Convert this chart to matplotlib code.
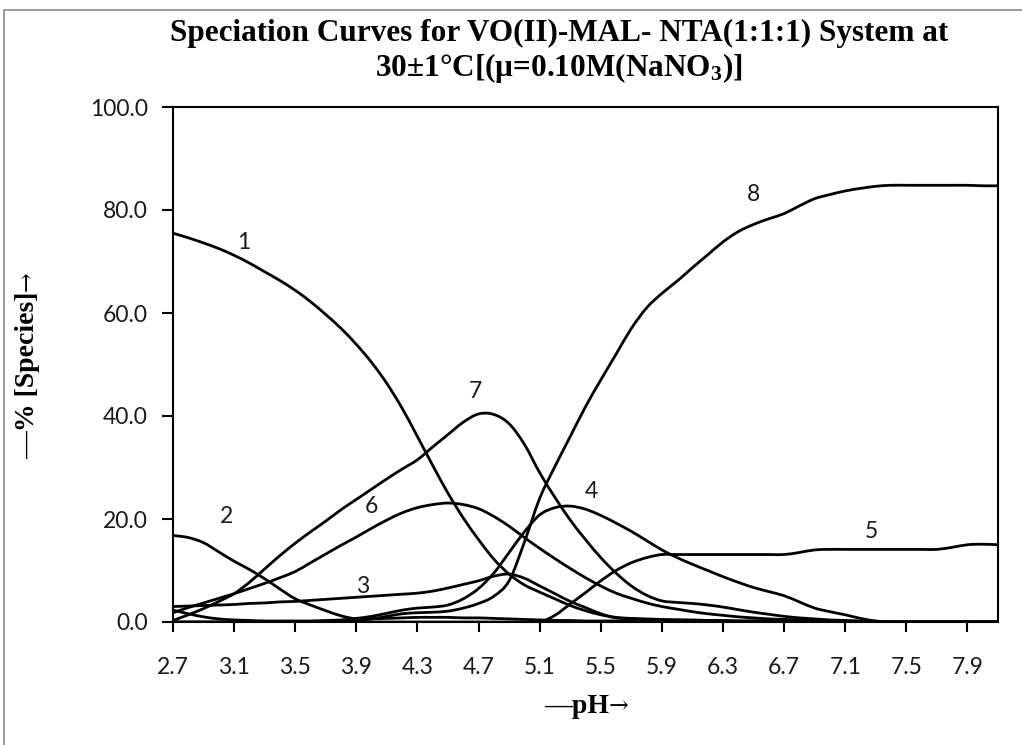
import numpy as np
import matplotlib
matplotlib.use("Agg")
import matplotlib.pyplot as plt
from matplotlib.path import Path
from matplotlib.patches import PathPatch, Rectangle

# ---------------- data ----------------
ph = [2.7, 2.8, 2.9, 3.0, 3.1, 3.2, 3.3, 3.4, 3.5, 3.6, 3.7, 3.8, 3.9, 4.0,
      4.1, 4.2, 4.3, 4.4, 4.5, 4.6, 4.7, 4.8, 4.9, 5.0, 5.1, 5.2, 5.3, 5.4,
      5.5, 5.6, 5.7, 5.8, 5.9, 6.0, 6.1, 6.2, 6.3, 6.4, 6.5, 6.6, 6.7, 6.8,
      6.9, 7.0, 7.1, 7.2, 7.3, 7.4, 7.5, 7.6, 7.7, 7.8, 7.9, 8.0, 8.1]

s1 = [75.5, 74.6, 73.6, 72.5, 71.2, 69.7, 68.0, 66.3, 64.4, 62.2, 59.7, 57.0, 53.9, 50.4,
      46.3, 41.5, 36.0, 30.4, 25.0, 20.2, 16.0, 12.2, 9.3, 7.2, 5.8, 4.5, 3.2, 2.2,
      1.4, 0.9, 0.7, 0.6, 0.5, 0.4, 0.4, 0.3, 0.3, 0.2, 0.2, 0.2, 0.1, 0.1,
      0.1, 0.1, 0.0, 0.0, 0.0, 0.0, 0.0, 0.0, 0.0, 0.0, 0.0, 0.0, 0.0]
s2 = [16.8, 16.4, 15.4, 13.6, 11.8, 10.2, 8.4, 6.4, 4.5, 3.3, 2.2, 1.2, 0.6, 0.6,
      0.7, 0.8, 0.9, 0.9, 0.9, 0.8, 0.8, 0.7, 0.6, 0.5, 0.4, 0.3, 0.3, 0.2,
      0.2, 0.2, 0.1, 0.1, 0.1, 0.1, 0.1, 0.1, 0.1, 0.1, 0.1, 0.0, 0.0, 0.0,
      0.0, 0.0, 0.0, 0.0, 0.0, 0.0, 0.0, 0.0, 0.0, 0.0, 0.0, 0.0, 0.0]
s3 = [3.0, 3.1, 3.2, 3.3, 3.4, 3.6, 3.7, 3.9, 4.0, 4.2, 4.4, 4.6, 4.8, 5.0,
      5.2, 5.4, 5.6, 6.0, 6.6, 7.3, 8.0, 8.9, 9.3, 8.5, 7.0, 5.5, 4.0, 2.8,
      1.6, 0.8, 0.6, 0.5, 0.4, 0.4, 0.3, 0.3, 0.2, 0.2, 0.2, 0.2, 0.1, 0.1,
      0.1, 0.1, 0.0, 0.0, 0.0, 0.0, 0.0, 0.0, 0.0, 0.0, 0.0, 0.0, 0.0]
s4 = [2.3, 1.6, 1.0, 0.6, 0.4, 0.3, 0.2, 0.2, 0.2, 0.2, 0.3, 0.4, 0.7, 1.1,
      1.7, 2.3, 2.7, 2.9, 3.3, 4.5, 6.5, 9.5, 13.5, 17.5, 20.8, 22.2, 22.5, 21.9,
      20.7, 19.2, 17.6, 15.8, 14.0, 12.5, 11.2, 10.0, 8.8, 7.7, 6.7, 5.9, 5.1, 3.9,
      2.7, 2.0, 1.4, 0.7, 0.2, 0.0, 0.0, 0.0, 0.0, 0.0, 0.0, 0.0, 0.0]
s5 = [0.0, 0.0, 0.0, 0.0, 0.0, 0.0, 0.0, 0.0, 0.0, 0.0, 0.0, 0.0, 0.0, 0.0,
      0.0, 0.0, 0.0, 0.0, 0.0, 0.0, 0.0, 0.0, 0.0, 0.0, 0.0, 1.3, 3.5, 5.7,
      8.0, 10.0, 11.5, 12.5, 13.1, 13.1, 13.1, 13.1, 13.1, 13.1, 13.1, 13.1, 13.1, 13.5,
      14.0, 14.1, 14.1, 14.1, 14.1, 14.1, 14.1, 14.1, 14.1, 14.5, 15.0, 15.1, 15.0]
s6 = [1.8, 2.8, 3.7, 4.6, 5.5, 6.5, 7.5, 8.6, 9.8, 11.5, 13.2, 14.9, 16.5, 18.2,
      19.8, 21.2, 22.2, 22.8, 23.1, 22.8, 22.0, 20.5, 18.6, 16.4, 14.3, 12.3, 10.4, 8.6,
      7.0, 5.6, 4.6, 3.7, 3.0, 2.5, 2.0, 1.6, 1.3, 1.0, 0.8, 0.6, 0.5, 0.4,
      0.3, 0.2, 0.2, 0.1, 0.1, 0.0, 0.0, 0.0, 0.0, 0.0, 0.0, 0.0, 0.0]
s7 = [0.3, 1.4, 2.6, 4.0, 5.5, 7.7, 10.3, 12.9, 15.3, 17.5, 19.6, 21.8, 23.8, 25.8,
      27.8, 29.7, 31.5, 34.0, 36.4, 38.8, 40.4, 40.3, 38.5, 34.5, 29.0, 24.2, 19.8, 16.0,
      12.5, 9.5, 7.0, 5.2, 4.1, 3.8, 3.6, 3.3, 2.9, 2.4, 1.9, 1.5, 1.1, 0.8,
      0.6, 0.4, 0.3, 0.2, 0.1, 0.0, 0.0, 0.0, 0.0, 0.0, 0.0, 0.0, 0.0]
s8 = [0.0, 0.0, 0.0, 0.0, 0.0, 0.0, 0.0, 0.0, 0.0, 0.0, 0.0, 0.1, 0.3, 0.6,
      1.1, 1.6, 1.8, 1.9, 2.1, 2.7, 3.6, 5.0, 8.0, 15.5, 24.0, 30.2, 36.0, 41.8,
      47.0, 52.0, 57.0, 61.0, 63.8, 66.2, 68.8, 71.3, 73.8, 75.8, 77.2, 78.3, 79.3, 80.8,
      82.2, 83.0, 83.7, 84.2, 84.6, 84.8, 84.8, 84.8, 84.8, 84.8, 84.8, 84.7, 84.7]

series = [s1, s2, s3, s4, s5, s6, s7, s8]

curve_labels = ["1", "2", "3", "4", "5", "6", "7", "8"]
label_ph = [3.16, 3.05, 3.94, 5.44, 7.27, 4.00, 4.68, 6.50]
label_pct = [73.6, 20.5, 6.9, 25.4, 17.5, 22.4, 44.8, 83.0]

x_tick_labels = ["2.7", "3.1", "3.5", "3.9", "4.3", "4.7", "5.1", "5.5",
                 "5.9", "6.3", "6.7", "7.1", "7.5", "7.9"]
y_ticks = [0, 20, 40, 60, 80, 100]

title1 = "Speciation Curves for VO(II)-MAL- NTA(1:1:1) System at"
title2 = r"30±1°C[(μ=0.10M(NaNO$_3$)]"
xlabel = "—pH"
ylabel = "—% [Species]"
arrow = "→"

# ---------------- style ----------------
plt.rcParams['mathtext.fontset'] = 'custom'
plt.rcParams['mathtext.rm'] = 'Liberation Serif:bold'
plt.rcParams['mathtext.it'] = 'Liberation Serif:bold'
plt.rcParams['mathtext.bf'] = 'Liberation Serif:bold'

serif = ['Liberation Serif', 'DejaVu Serif']
sans = ['Lato', 'DejaVu Sans']

W, H = 1022, 745
fig = plt.figure(figsize=(W / 100, H / 100), dpi=100)
L, R, T, B = 173, 998, 107, 622
ax = fig.add_axes([L / W, 1 - B / H, (R - L) / W, (B - T) / H])


def smooth_path(xs, ys):
    xs = np.asarray(xs, float)
    ys = np.asarray(ys, float)
    n = len(xs)
    verts = [(xs[0], ys[0])]
    codes = [Path.MOVETO]
    for i in range(n - 1):
        i0 = max(i - 1, 0)
        i3 = min(i + 2, n - 1)
        c1 = (xs[i] + (xs[i + 1] - xs[i0]) / 6, ys[i] + (ys[i + 1] - ys[i0]) / 6)
        c2 = (xs[i + 1] - (xs[i3] - xs[i]) / 6, ys[i + 1] - (ys[i3] - ys[i]) / 6)
        verts += [c1, c2, (xs[i + 1], ys[i + 1])]
        codes += [Path.CURVE4] * 3
    return Path(verts, codes)


for s in series:
    patch = PathPatch(smooth_path(ph, s), facecolor='none', edgecolor='black',
                      lw=2.0, capstyle='round', joinstyle='round', zorder=3)
    ax.add_patch(patch)

for lab, lx, ly in zip(curve_labels, label_ph, label_pct):
    ax.text(lx, ly, lab, ha='center', va='center', fontsize=16.5,
            family=sans, color='#1a1a1a', zorder=4)

ax.set_xlim(ph[0], ph[-1])
ax.set_ylim(0, 100)
ax.set_xticks([float(t) for t in x_tick_labels])
ax.set_xticklabels(x_tick_labels)
ax.set_yticks(y_ticks)
ax.set_yticklabels([f"{v:.1f}" for v in y_ticks])

for sp in ax.spines.values():
    sp.set_linewidth(1.5)
    sp.set_color('black')

ax.tick_params(axis='y', direction='out', length=8, width=1.5, pad=10,
               labelsize=16.5, colors='black')
ax.tick_params(axis='x', direction='out', length=7, width=1.5, pad=18,
               labelsize=16.5, colors='black')
for lbl in ax.get_xticklabels() + ax.get_yticklabels():
    lbl.set_family(sans)
    lbl.set_color('#1a1a1a')

# figure border (chart area)
fig.add_artist(Rectangle((4 / W, -0.05), 1.2, 1 - 10 / H + 0.05,
                         transform=fig.transFigure, fill=False,
                         edgecolor='#8a8a8a', lw=1.2))

fig.text(559 / W, 1 - 33 / H, title1, ha='center', va='center', fontsize=22.5,
         fontweight='bold', family=serif)
fig.text(559 / W, 1 - 68 / H, title2, ha='center', va='center', fontsize=22.5,
         fontweight='bold', family=serif)

# axis titles: text + arrow glyph placed right after it
renderer = fig.canvas.get_renderer()

xt = fig.text(0, 0, xlabel, ha='left', va='baseline', fontsize=20,
              fontweight='bold', family=serif)
xa = fig.text(0, 0, arrow, ha='left', va='baseline', fontsize=17,
              family=['DejaVu Serif'])
wx = xt.get_window_extent(renderer).width
wa = xa.get_window_extent(renderer).width
x0 = 586 - (wx + wa) / 2
xt.set_position((x0 / W, 1 - 713 / H))
xa.set_position(((x0 + wx) / W, 1 - 713 / H))

yt = fig.text(0, 0, ylabel, ha='left', va='baseline', fontsize=20,
              fontweight='bold', family=serif, rotation=90,
              rotation_mode='anchor')
ya = fig.text(0, 0, arrow, ha='left', va='baseline', fontsize=17,
              family=['DejaVu Serif'], rotation=90, rotation_mode='anchor')
hy = yt.get_window_extent(renderer).height
ha_ = ya.get_window_extent(renderer).height
y0 = 365 + (hy + ha_) / 2   # bottom of text in pixel rows (from top)
bx = 34
yt.set_position((bx / W, 1 - y0 / H))
ya.set_position((bx / W, 1 - (y0 - hy) / H))

fig.savefig("out.png", dpi=100)
